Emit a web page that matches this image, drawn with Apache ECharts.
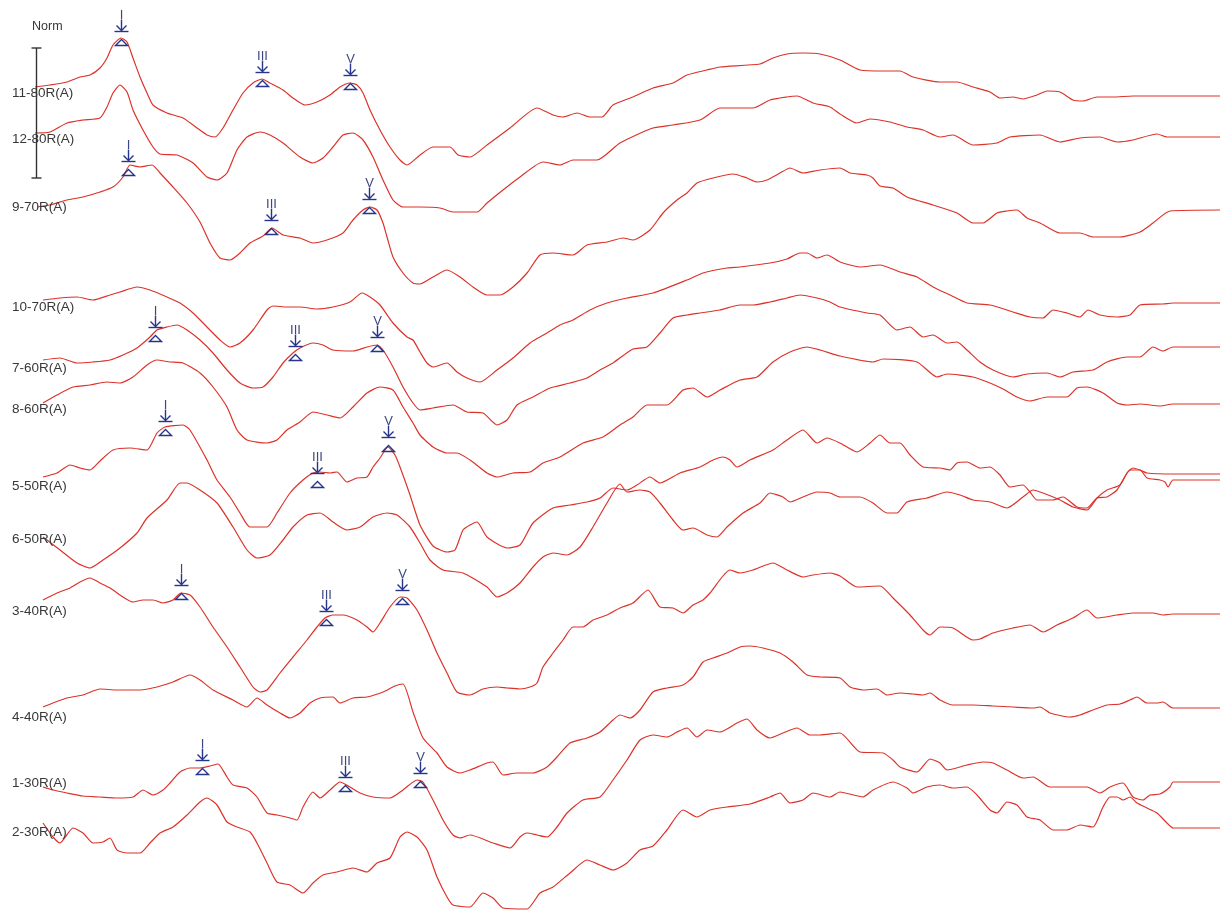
<!DOCTYPE html>
<html>
<head>
<meta charset="utf-8">
<title>ABR</title>
<script src="https://cdn.jsdelivr.net/npm/echarts@6/dist/echarts.min.js"></script>
<style>
  html, body { margin: 0; padding: 0; background: #ffffff; }
  #chart { width: 1225px; height: 913px; }
</style>
</head>
<body>
<div id="chart"></div>
<script>
// Recording names, top to bottom
const traceNames = ['11-80R(A)', '12-80R(A)', '9-70R(A)', '10-70R(A)', '7-60R(A)', '8-60R(A)',
                    '5-50R(A)', '6-50R(A)', '3-40R(A)', '4-40R(A)', '1-30R(A)', '2-30R(A)'];

// Vertical row position of each recording (display units, growing downward)
const rowOffsets = [0.93, 1.39, 2.07, 3.07, 3.68, 4.09, 4.86, 5.39, 6.11, 7.17, 7.83, 8.32];

// Waveforms: [latency ms, amplitude] relative to the row baseline
const trace_11_80 = [[-0.15,0.06],[0.00,0.08],[0.17,0.11],[0.30,0.16],[0.40,0.18],[0.50,0.25],[0.57,0.35],[0.63,0.48],[0.71,0.55],[0.77,0.51],[0.83,0.35],[0.90,0.16],[0.97,0.00],[1.03,-0.12],[1.17,-0.20],[1.33,-0.25],[1.47,-0.35],[1.57,-0.42],[1.65,-0.44],[1.73,-0.35],[1.83,-0.17],[1.93,0.00],[2.03,0.10],[2.12,0.14],[2.20,0.10],[2.33,0.03],[2.43,-0.05],[2.55,-0.12],[2.67,-0.09],[2.80,-0.02],[2.90,0.06],[3.00,0.10],[3.07,0.08],[3.13,0.00],[3.20,-0.17],[3.30,-0.37],[3.40,-0.54],[3.50,-0.67],[3.57,-0.72],[3.70,-0.62],[3.83,-0.54],[4.00,-0.54],[4.08,-0.62],[4.20,-0.64],[4.37,-0.52],[4.60,-0.35],[4.87,-0.15],[5.03,-0.22],[5.13,-0.24],[5.27,-0.20],[5.40,-0.24],[5.52,-0.24],[5.63,-0.12],[5.83,-0.04],[6.03,0.05],[6.23,0.10],[6.37,0.18],[6.57,0.23],[6.70,0.26],[7.10,0.29],[7.23,0.35],[7.37,0.39],[7.53,0.40],[7.70,0.39],[7.90,0.33],[8.10,0.23],[8.33,0.22],[8.50,0.22],[8.63,0.16],[8.90,0.11],[9.07,0.11],[9.23,0.06],[9.40,0.01],[9.50,-0.05],[9.63,-0.04],[9.73,-0.06],[9.87,-0.02],[9.97,0.02],[10.10,0.01],[10.23,-0.07],[10.33,-0.08],[10.47,-0.04],[10.63,-0.04],[10.83,-0.03],[11.23,-0.03],[11.70,-0.03]];

const trace_12_80 = [[-0.15,0.06],[0.00,0.07],[0.17,0.16],[0.33,0.19],[0.50,0.21],[0.57,0.32],[0.63,0.46],[0.70,0.54],[0.77,0.47],[0.83,0.29],[0.93,0.09],[1.03,-0.08],[1.10,-0.15],[1.27,-0.16],[1.43,-0.24],[1.57,-0.38],[1.67,-0.41],[1.77,-0.34],[1.87,-0.11],[1.97,0.02],[2.10,0.07],[2.20,0.04],[2.33,-0.04],[2.50,-0.18],[2.63,-0.24],[2.73,-0.19],[2.83,-0.08],[2.93,0.04],[3.03,0.06],[3.13,-0.01],[3.23,-0.18],[3.33,-0.41],[3.43,-0.61],[3.53,-0.68],[3.70,-0.68],[3.90,-0.69],[4.03,-0.73],[4.27,-0.73],[4.37,-0.64],[4.53,-0.51],[4.70,-0.38],[4.93,-0.23],[5.10,-0.26],[5.23,-0.21],[5.47,-0.21],[5.70,-0.04],[6.03,0.11],[6.23,0.14],[6.50,0.19],[6.70,0.31],[7.03,0.31],[7.20,0.39],[7.37,0.42],[7.47,0.43],[7.63,0.36],[7.80,0.32],[7.90,0.25],[8.07,0.16],[8.20,0.20],[8.40,0.17],[8.57,0.12],[8.73,0.09],[8.90,0.02],[9.03,0.04],[9.23,-0.06],[9.47,-0.04],[9.60,0.02],[9.90,0.04],[10.10,-0.03],[10.30,0.01],[10.50,0.02],[10.67,-0.03],[10.83,-0.01],[11.07,0.05],[11.17,0.02],[11.70,0.02]];

const trace_9_70 = [[-0.13,0.00],[0.00,0.02],[0.17,0.07],[0.33,0.10],[0.50,0.15],[0.63,0.20],[0.73,0.30],[0.80,0.42],[0.90,0.40],[1.02,0.42],[1.10,0.34],[1.23,0.20],[1.37,0.04],[1.50,-0.15],[1.60,-0.36],[1.70,-0.51],[1.80,-0.53],[1.90,-0.46],[2.00,-0.36],[2.13,-0.29],[2.22,-0.21],[2.33,-0.28],[2.50,-0.31],[2.63,-0.36],[2.77,-0.33],[2.93,-0.26],[3.03,-0.13],[3.13,-0.03],[3.20,0.00],[3.27,-0.03],[3.33,-0.16],[3.37,-0.30],[3.43,-0.50],[3.53,-0.66],[3.63,-0.76],[3.70,-0.77],[3.83,-0.70],[3.97,-0.63],[4.10,-0.70],[4.23,-0.80],[4.37,-0.88],[4.50,-0.88],[4.63,-0.80],[4.77,-0.66],[4.90,-0.48],[5.03,-0.46],[5.23,-0.48],[5.37,-0.38],[5.57,-0.35],[5.73,-0.31],[5.83,-0.33],[6.00,-0.23],[6.13,-0.06],[6.27,0.07],[6.37,0.14],[6.47,0.24],[6.63,0.29],[6.83,0.33],[6.97,0.29],[7.07,0.25],[7.17,0.27],[7.30,0.34],[7.40,0.39],[7.53,0.34],[7.70,0.37],[7.90,0.39],[8.00,0.34],[8.17,0.32],[8.23,0.29],[8.30,0.21],[8.43,0.19],[8.57,0.10],[8.83,0.02],[9.07,-0.06],[9.23,-0.16],[9.33,-0.16],[9.47,-0.06],[9.57,-0.04],[9.67,-0.03],[9.77,-0.11],[9.90,-0.16],[10.10,-0.26],[10.30,-0.26],[10.43,-0.30],[10.70,-0.30],[10.90,-0.25],[11.03,-0.16],[11.20,-0.04],[11.70,-0.03]];

const trace_10_70 = [[-0.07,0.07],[0.10,0.09],[0.27,0.10],[0.43,0.07],[0.60,0.12],[0.70,0.15],[0.87,0.20],[1.00,0.17],[1.17,0.10],[1.30,0.04],[1.43,-0.06],[1.57,-0.20],[1.70,-0.33],[1.80,-0.40],[1.90,-0.36],[2.03,-0.23],[2.17,-0.03],[2.23,0.01],[2.37,0.00],[2.50,0.00],[2.67,-0.02],[2.83,0.00],[3.00,0.05],[3.12,0.14],[3.20,0.10],[3.30,0.02],[3.43,-0.16],[3.57,-0.30],[3.63,-0.33],[3.70,-0.45],[3.77,-0.56],[3.83,-0.60],[3.97,-0.56],[4.07,-0.65],[4.17,-0.71],[4.30,-0.75],[4.47,-0.63],[4.63,-0.51],[4.80,-0.36],[4.97,-0.26],[5.10,-0.18],[5.23,-0.13],[5.40,-0.03],[5.57,0.04],[5.77,0.09],[6.03,0.14],[6.37,0.27],[6.53,0.34],[6.77,0.39],[6.90,0.40],[7.20,0.44],[7.37,0.48],[7.50,0.54],[7.57,0.54],[7.67,0.49],[7.77,0.52],[7.90,0.45],[8.10,0.40],[8.30,0.42],[8.50,0.35],[8.67,0.30],[8.83,0.20],[9.00,0.12],[9.17,0.04],[9.40,0.02],[9.63,-0.05],[9.80,-0.10],[9.93,-0.11],[10.03,-0.03],[10.17,-0.06],[10.30,-0.10],[10.38,-0.03],[10.50,-0.08],[10.67,-0.10],[10.80,-0.08],[10.90,0.02],[11.13,0.03],[11.23,0.04],[11.70,0.04]];

const trace_7_60 = [[-0.07,0.08],[0.10,0.10],[0.27,0.05],[0.43,0.06],[0.60,0.08],[0.73,0.13],[0.87,0.20],[1.00,0.31],[1.07,0.38],[1.17,0.41],[1.27,0.43],[1.37,0.38],[1.50,0.28],[1.63,0.15],[1.77,-0.02],[1.90,-0.15],[2.03,-0.20],[2.13,-0.19],[2.23,-0.09],[2.33,0.05],[2.43,0.15],[2.50,0.20],[2.63,0.25],[2.73,0.23],[2.83,0.18],[3.03,0.17],[3.17,0.21],[3.27,0.23],[3.33,0.18],[3.43,0.01],[3.53,-0.19],[3.63,-0.35],[3.70,-0.42],[3.83,-0.40],[4.03,-0.37],[4.17,-0.44],[4.33,-0.45],[4.47,-0.57],[4.57,-0.52],[4.67,-0.37],[4.83,-0.29],[5.00,-0.20],[5.20,-0.15],[5.37,-0.10],[5.50,-0.02],[5.63,0.05],[5.83,0.19],[5.97,0.21],[6.10,0.35],[6.23,0.50],[6.37,0.53],[6.50,0.55],[6.70,0.58],[6.90,0.63],[7.03,0.63],[7.20,0.66],[7.37,0.70],[7.50,0.73],[7.67,0.70],[7.80,0.66],[7.90,0.61],[8.17,0.55],[8.30,0.53],[8.47,0.38],[8.60,0.41],[8.73,0.31],[8.83,0.33],[8.97,0.25],[9.07,0.26],[9.17,0.18],[9.30,0.06],[9.43,-0.02],[9.63,-0.09],[9.77,-0.06],[9.97,-0.05],[10.10,-0.09],[10.23,-0.04],[10.43,-0.02],[10.57,0.06],[10.77,0.11],[10.90,0.11],[11.03,0.21],[11.13,0.17],[11.23,0.21],[11.70,0.21]];

const trace_8_60 = [[-0.07,0.06],[0.07,0.14],[0.23,0.22],[0.40,0.24],[0.57,0.27],[0.70,0.26],[0.83,0.32],[0.97,0.44],[1.07,0.49],[1.20,0.47],[1.33,0.46],[1.50,0.36],[1.63,0.22],[1.77,0.02],[1.87,-0.21],[1.97,-0.31],[2.17,-0.34],[2.27,-0.31],[2.37,-0.21],[2.50,-0.13],[2.63,-0.03],[2.77,-0.06],[2.90,-0.09],[3.03,0.02],[3.17,0.16],[3.30,0.22],[3.43,0.19],[3.53,0.02],[3.63,-0.14],[3.70,-0.26],[3.83,-0.38],[3.97,-0.44],[4.07,-0.44],[4.20,-0.51],[4.37,-0.64],[4.47,-0.68],[4.63,-0.64],[4.80,-0.63],[4.93,-0.54],[5.10,-0.48],[5.33,-0.34],[5.53,-0.28],[5.70,-0.16],[5.83,-0.08],[5.97,0.04],[6.17,0.04],[6.33,0.19],[6.43,0.21],[6.57,0.12],[6.70,0.19],[6.90,0.29],[7.07,0.32],[7.23,0.47],[7.40,0.57],[7.57,0.62],[7.70,0.59],[7.90,0.53],[8.23,0.47],[8.33,0.50],[8.67,0.47],[8.87,0.32],[8.97,0.35],[9.23,0.32],[9.40,0.26],[9.53,0.20],[9.67,0.12],[9.80,0.08],[9.97,0.12],[10.17,0.12],[10.27,0.21],[10.37,0.22],[10.53,0.16],[10.67,0.06],[10.77,0.04],[10.90,0.05],[11.10,0.03],[11.23,0.05],[11.70,0.05]];

const trace_5_50 = [[-0.07,0.09],[0.07,0.13],[0.20,0.21],[0.30,0.18],[0.40,0.16],[0.50,0.25],[0.63,0.36],[0.80,0.38],[0.97,0.36],[1.07,0.53],[1.15,0.59],[1.33,0.61],[1.40,0.56],[1.57,0.26],[1.67,0.06],[1.80,-0.11],[1.90,-0.27],[2.00,-0.41],[2.17,-0.41],[2.27,-0.27],[2.40,-0.07],[2.53,0.06],[2.63,0.13],[2.70,0.14],[2.80,0.13],[2.87,0.14],[2.97,0.04],[3.07,0.08],[3.17,0.09],[3.23,0.19],[3.30,0.28],[3.38,0.39],[3.45,0.31],[3.50,0.19],[3.60,-0.09],[3.70,-0.39],[3.83,-0.60],[3.97,-0.66],[4.05,-0.64],[4.13,-0.44],[4.20,-0.39],[4.27,-0.36],[4.37,-0.51],[4.57,-0.62],[4.70,-0.59],[4.83,-0.37],[5.03,-0.22],[5.20,-0.19],[5.37,-0.16],[5.50,-0.12],[5.63,-0.02],[5.77,-0.04],[5.87,0.01],[6.00,0.09],[6.10,0.03],[6.30,0.13],[6.50,0.19],[6.63,0.26],[6.73,0.29],[6.80,0.26],[6.87,0.19],[7.00,0.26],[7.23,0.36],[7.37,0.46],[7.53,0.56],[7.67,0.43],[7.77,0.48],[7.90,0.43],[8.07,0.34],[8.20,0.43],[8.30,0.51],[8.40,0.43],[8.50,0.43],[8.60,0.31],[8.73,0.19],[8.90,0.18],[9.00,0.16],[9.07,0.23],[9.17,0.24],[9.30,0.18],[9.40,0.19],[9.50,0.11],[9.60,-0.01],[9.73,0.01],[9.80,-0.06],[9.87,-0.14],[10.03,-0.14],[10.13,-0.11],[10.27,-0.21],[10.37,-0.22],[10.47,-0.12],[10.57,-0.11],[10.67,-0.04],[10.77,0.13],[10.83,0.18],[10.90,0.16],[10.97,0.13],[11.23,0.12],[11.70,0.12]];

const trace_6_50 = [[-0.07,0.02],[0.10,-0.11],[0.27,-0.24],[0.40,-0.29],[0.53,-0.21],[0.70,-0.09],[0.87,0.06],[0.97,0.21],[1.17,0.39],[1.30,0.56],[1.37,0.56],[1.50,0.49],[1.67,0.36],[1.83,0.12],[1.97,-0.11],[2.07,-0.19],[2.20,-0.16],[2.33,-0.01],[2.43,0.12],[2.57,0.24],[2.70,0.26],[2.83,0.17],[2.97,0.09],[3.10,0.12],[3.23,0.22],[3.37,0.26],[3.47,0.24],[3.60,0.12],[3.70,-0.04],[3.80,-0.21],[3.93,-0.31],[4.13,-0.34],[4.37,-0.48],[4.47,-0.58],[4.57,-0.54],[4.70,-0.44],[4.83,-0.28],[4.93,-0.18],[5.03,-0.14],[5.17,-0.16],[5.30,-0.08],[5.43,0.12],[5.57,0.36],[5.70,0.55],[5.77,0.47],[5.90,0.49],[6.00,0.47],[6.10,0.36],[6.23,0.19],[6.33,0.09],[6.43,0.11],[6.57,0.04],[6.67,0.02],[6.77,0.12],[6.93,0.26],[7.10,0.36],[7.20,0.46],[7.33,0.42],[7.40,0.37],[7.53,0.42],[7.67,0.47],[7.80,0.46],[7.90,0.42],[8.10,0.42],[8.23,0.36],[8.37,0.26],[8.47,0.26],[8.57,0.37],[8.77,0.41],[8.97,0.47],[9.10,0.44],[9.23,0.39],[9.40,0.37],[9.57,0.31],[9.73,0.42],[9.83,0.49],[9.93,0.46],[10.10,0.39],[10.23,0.32],[10.37,0.29],[10.47,0.41],[10.57,0.49],[10.70,0.54],[10.80,0.69],[10.90,0.69],[10.97,0.61],[11.10,0.59],[11.15,0.57],[11.18,0.52],[11.23,0.59],[11.70,0.59]];

const trace_3_40 = [[-0.07,0.11],[0.07,0.18],[0.20,0.23],[0.30,0.29],[0.40,0.33],[0.50,0.28],[0.60,0.23],[0.73,0.14],[0.83,0.09],[0.93,0.11],[1.03,0.11],[1.13,0.08],[1.23,0.11],[1.31,0.18],[1.40,0.16],[1.50,0.04],[1.63,-0.16],[1.77,-0.36],[1.90,-0.56],[2.03,-0.76],[2.10,-0.81],[2.17,-0.79],[2.30,-0.62],[2.43,-0.46],[2.57,-0.29],[2.67,-0.16],[2.75,-0.07],[2.83,-0.04],[2.93,-0.04],[3.07,-0.09],[3.17,-0.16],[3.23,-0.21],[3.30,-0.12],[3.40,0.04],[3.50,0.14],[3.57,0.13],[3.67,0.01],[3.77,-0.19],[3.87,-0.42],[3.97,-0.62],[4.07,-0.81],[4.20,-0.84],[4.33,-0.78],[4.47,-0.76],[4.57,-0.77],[4.70,-0.78],[4.80,-0.76],[4.87,-0.72],[4.93,-0.56],[5.03,-0.42],[5.13,-0.29],[5.23,-0.16],[5.33,-0.16],[5.43,-0.09],[5.57,-0.04],[5.70,0.03],[5.83,0.08],[5.98,0.21],[6.10,0.04],[6.23,0.03],[6.33,-0.02],[6.43,0.06],[6.53,0.11],[6.60,0.18],[6.80,0.41],[6.90,0.38],[7.03,0.41],[7.23,0.48],[7.37,0.41],[7.53,0.34],[7.63,0.36],[7.80,0.38],[7.90,0.35],[8.07,0.24],[8.30,0.25],[8.43,0.13],[8.60,-0.04],[8.73,-0.19],[8.80,-0.24],[8.90,-0.16],[9.03,-0.17],[9.23,-0.29],[9.30,-0.28],[9.43,-0.22],[9.63,-0.17],[9.80,-0.14],[9.93,-0.21],[10.07,-0.14],[10.23,-0.07],[10.37,0.01],[10.47,-0.07],[10.67,-0.04],[10.83,-0.02],[11.03,-0.02],[11.13,-0.04],[11.23,-0.03],[11.70,-0.03]];

const trace_4_40 = [[-0.07,0.10],[0.03,0.14],[0.17,0.19],[0.33,0.22],[0.50,0.28],[0.67,0.27],[0.90,0.27],[1.07,0.30],[1.23,0.35],[1.40,0.42],[1.50,0.37],[1.63,0.27],[1.83,0.17],[1.97,0.10],[2.07,0.19],[2.17,0.12],[2.30,0.04],[2.40,-0.01],[2.50,0.04],[2.60,0.14],[2.70,0.19],[2.83,0.20],[2.90,0.14],[3.03,0.19],[3.17,0.20],[3.33,0.25],[3.45,0.31],[3.53,0.33],[3.63,0.05],[3.73,-0.21],[3.87,-0.36],[3.97,-0.50],[4.10,-0.56],[4.20,-0.53],[4.37,-0.46],[4.43,-0.45],[4.53,-0.58],[4.67,-0.56],[4.83,-0.56],[4.97,-0.50],[5.07,-0.40],[5.20,-0.26],[5.37,-0.21],[5.50,-0.15],[5.63,-0.03],[5.70,0.02],[5.80,-0.01],[5.90,0.07],[6.03,0.25],[6.17,0.29],[6.33,0.32],[6.43,0.40],[6.53,0.55],[6.63,0.59],[6.77,0.64],[6.90,0.70],[7.00,0.71],[7.13,0.69],[7.30,0.64],[7.43,0.55],[7.57,0.42],[7.70,0.40],[7.90,0.39],[8.00,0.30],[8.13,0.27],[8.27,0.28],[8.37,0.22],[8.50,0.24],[8.63,0.23],[8.73,0.22],[8.80,0.24],[8.90,0.17],[9.03,0.12],[9.23,0.12],[9.43,0.11],[9.63,0.10],[9.83,0.09],[9.90,0.10],[10.00,0.04],[10.20,0.00],[10.30,0.02],[10.43,0.07],[10.57,0.12],[10.70,0.13],[10.80,0.17],[10.87,0.20],[10.97,0.14],[11.07,0.14],[11.13,0.15],[11.23,0.09],[11.70,0.09]];

const trace_1_30 = [[-0.07,-0.04],[0.03,-0.07],[0.17,-0.10],[0.33,-0.13],[0.50,-0.14],[0.67,-0.15],[0.83,-0.14],[0.93,-0.07],[1.03,-0.12],[1.13,-0.07],[1.20,0.00],[1.30,0.11],[1.40,0.15],[1.50,0.15],[1.60,0.17],[1.68,0.19],[1.77,0.06],[1.83,-0.02],[1.97,-0.05],[2.07,-0.14],[2.17,-0.30],[2.27,-0.32],[2.40,-0.35],[2.47,-0.37],[2.53,-0.24],[2.63,-0.09],[2.70,-0.15],[2.80,-0.07],[2.90,0.01],[3.00,-0.04],[3.10,-0.10],[3.23,-0.14],[3.40,-0.15],[3.53,-0.07],[3.67,0.03],[3.73,0.01],[3.83,-0.17],[3.93,-0.37],[4.03,-0.52],[4.10,-0.55],[4.20,-0.52],[4.43,-0.60],[4.60,-0.65],[4.70,-0.54],[4.77,-0.50],[4.87,-0.52],[4.97,-0.54],[5.07,-0.44],[5.17,-0.30],[5.33,-0.17],[5.50,-0.14],[5.63,0.03],[5.77,0.23],[5.90,0.43],[6.03,0.48],[6.17,0.46],[6.27,0.51],[6.37,0.55],[6.47,0.46],[6.57,0.53],[6.70,0.51],[6.87,0.60],[6.97,0.64],[7.07,0.53],[7.20,0.45],[7.33,0.50],[7.47,0.55],[7.60,0.48],[7.70,0.48],[7.90,0.50],[8.10,0.31],[8.33,0.30],[8.43,0.23],[8.50,0.16],[8.67,0.11],[8.80,0.24],[8.90,0.20],[8.97,0.13],[9.17,0.18],[9.33,0.21],[9.43,0.20],[9.57,0.13],[9.73,0.05],[9.83,0.06],[10.00,-0.04],[10.23,-0.04],[10.37,-0.04],[10.50,-0.10],[10.60,-0.04],[10.73,0.00],[10.83,-0.14],[10.93,-0.17],[11.00,-0.12],[11.10,-0.11],[11.20,-0.04],[11.23,0.01],[11.70,0.01]];

const trace_2_30 = [[-0.07,0.09],[0.03,-0.05],[0.10,-0.11],[0.23,0.04],[0.33,-0.01],[0.43,-0.11],[0.53,-0.10],[0.60,-0.06],[0.67,-0.18],[0.77,-0.21],[0.90,-0.21],[1.00,-0.11],[1.10,-0.01],[1.23,0.05],[1.37,0.17],[1.50,0.30],[1.57,0.34],[1.67,0.27],[1.77,0.10],[1.87,0.05],[2.00,0.00],[2.07,-0.11],[2.17,-0.31],[2.27,-0.50],[2.40,-0.53],[2.53,-0.61],[2.63,-0.51],[2.73,-0.43],[2.87,-0.40],[3.03,-0.36],[3.17,-0.40],[3.27,-0.31],[3.40,-0.26],[3.50,-0.05],[3.57,0.00],[3.67,-0.05],[3.77,-0.18],[3.87,-0.45],[3.97,-0.65],[4.03,-0.73],[4.20,-0.75],[4.33,-0.61],[4.43,-0.66],[4.53,-0.76],[4.77,-0.77],[4.90,-0.61],[5.03,-0.55],[5.20,-0.41],[5.37,-0.28],[5.50,-0.33],[5.63,-0.38],[5.77,-0.31],[5.90,-0.18],[6.03,-0.14],[6.17,0.02],[6.33,0.22],[6.47,0.15],[6.60,0.22],[6.77,0.25],[7.00,0.28],[7.20,0.35],[7.30,0.39],[7.40,0.29],[7.53,0.32],[7.63,0.39],[7.80,0.35],[7.90,0.40],[8.13,0.35],[8.23,0.42],[8.43,0.50],[8.57,0.44],[8.63,0.39],[8.77,0.45],[8.90,0.47],[9.03,0.44],[9.17,0.45],[9.27,0.37],[9.40,0.22],[9.47,0.19],[9.57,0.30],[9.67,0.27],[9.77,0.15],[9.90,0.12],[10.03,0.02],[10.17,0.02],[10.30,0.07],[10.43,0.05],[10.53,0.25],[10.60,0.35],[10.67,0.35],[10.73,0.32],[10.80,0.35],[10.87,0.29],[10.97,0.24],[11.07,0.19],[11.17,0.09],[11.23,0.04],[11.70,0.04]];

const traces = [trace_11_80, trace_12_80, trace_9_70, trace_10_70, trace_7_60, trace_8_60,
                trace_5_50, trace_6_50, trace_3_40, trace_4_40, trace_1_30, trace_2_30];

// Wave I / III / V picks: [recording index, wave, latency ms, amplitude]
const peakPicks = [
  [0, 'I', 0.71, 0.57], [0, 'III', 2.12, 0.16], [0, 'V', 3.00, 0.13],
  [2, 'I', 0.78, 0.41], [2, 'III', 2.21, -0.18], [2, 'V', 3.19, 0.03],
  [4, 'I', 1.05, 0.36], [4, 'III', 2.45, 0.17], [4, 'V', 3.27, 0.26],
  [6, 'I', 1.15, 0.60], [6, 'III', 2.67, 0.08], [6, 'V', 3.38, 0.44],
  [8, 'I', 1.31, 0.21], [8, 'III', 2.76, -0.05], [8, 'V', 3.52, 0.16],
  [10, 'I', 1.52, 0.18], [10, 'III', 2.95, 0.01], [10, 'V', 3.70, 0.05]
];

// Calibration bar (display units)
const CAL_BAR = { t: -0.14, top: 0.48, length: 1.30 };
const LABEL_T = -0.38;

const WAVE_COLOR = '#dc3229';
const MARK_COLOR = '#27348b';
const TEXT_COLOR = '#383838';
const FONT = '"Liberation Sans", Arial, sans-serif';

const chart = echarts.init(document.getElementById('chart'), null, { renderer: 'canvas' });

const lineSeries = traces.map((pts, i) => ({
  type: 'line',
  name: traceNames[i],
  data: pts.map(p => [p[0], rowOffsets[i] - p[1]]),
  showSymbol: false,
  symbol: 'none',
  smooth: 0.2,
  silent: true,
  z: 2,
  lineStyle: { color: WAVE_COLOR, width: 1.2 }
}));

// Peak pick glyph: numeral, down arrow onto a bar, and a hollow triangle under the peak
const markSeries = {
  type: 'custom',
  silent: true,
  z: 5,
  data: peakPicks.map(p => [p[2], rowOffsets[p[0]] - p[3]]),
  renderItem: function (params, api) {
    const c = api.coord([api.value(0), api.value(1)]);
    const x = Math.round(c[0]) + 0.5, y = Math.round(c[1]) + 0.5;
    const label = peakPicks[params.dataIndex][1];
    const st = { stroke: MARK_COLOR, lineWidth: 1.4, fill: null };
    return {
      type: 'group',
      children: [
        { type: 'text', style: { text: label, x: x, y: y - 15, align: 'center', verticalAlign: 'bottom',
            font: '13px ' + FONT, fill: '#3d4680' } },
        { type: 'line', shape: { x1: x, y1: y - 17, x2: x, y2: y - 6 }, style: st },
        { type: 'polyline', shape: { points: [[x - 5, y - 11], [x, y - 6], [x + 5, y - 11]] }, style: st },
        { type: 'line', shape: { x1: x - 7, y1: y - 5, x2: x + 7, y2: y - 5 }, style: st },
        { type: 'polygon', shape: { points: [[x, y + 3], [x - 6, y + 9], [x + 6, y + 9]] }, style: st }
      ]
    };
  }
};

const labelSeries = {
  type: 'custom',
  silent: true,
  z: 4,
  data: traceNames.map((n, i) => [LABEL_T, rowOffsets[i]]),
  renderItem: function (params, api) {
    const c = api.coord([api.value(0), api.value(1)]);
    return {
      type: 'text',
      style: { text: traceNames[params.dataIndex], x: c[0], y: c[1], align: 'left', verticalAlign: 'middle',
               font: '13.5px ' + FONT, fill: TEXT_COLOR }
    };
  }
};

const calSeries = {
  type: 'custom',
  silent: true,
  z: 3,
  data: [[CAL_BAR.t, CAL_BAR.top, CAL_BAR.top + CAL_BAR.length]],
  renderItem: function (params, api) {
    const a = api.coord([api.value(0), api.value(1)]);
    const b = api.coord([api.value(0), api.value(2)]);
    const x = Math.round(a[0]) + 0.5;
    const st = { stroke: '#333333', lineWidth: 1.4 };
    return {
      type: 'group',
      children: [
        { type: 'line', shape: { x1: x, y1: a[1], x2: x, y2: b[1] }, style: st },
        { type: 'line', shape: { x1: x - 5, y1: a[1], x2: x + 5, y2: a[1] }, style: st },
        { type: 'line', shape: { x1: x - 5, y1: b[1], x2: x + 5, y2: b[1] }, style: st }
      ]
    };
  }
};

chart.setOption({
  backgroundColor: '#ffffff',
  animation: false,
  grid: { left: 0, right: 0, top: 0, bottom: 0 },
  xAxis: { type: 'value', min: -0.5, max: 11.75, show: false },
  yAxis: { type: 'value', min: 0, max: 9.13, inverse: true, show: false },
  graphic: [{
    type: 'text', left: 32, top: 20,
    style: { text: 'Norm', font: '12.5px ' + FONT, fill: TEXT_COLOR }
  }],
  series: lineSeries.concat([calSeries, labelSeries, markSeries])
});
</script>
</body>
</html>
